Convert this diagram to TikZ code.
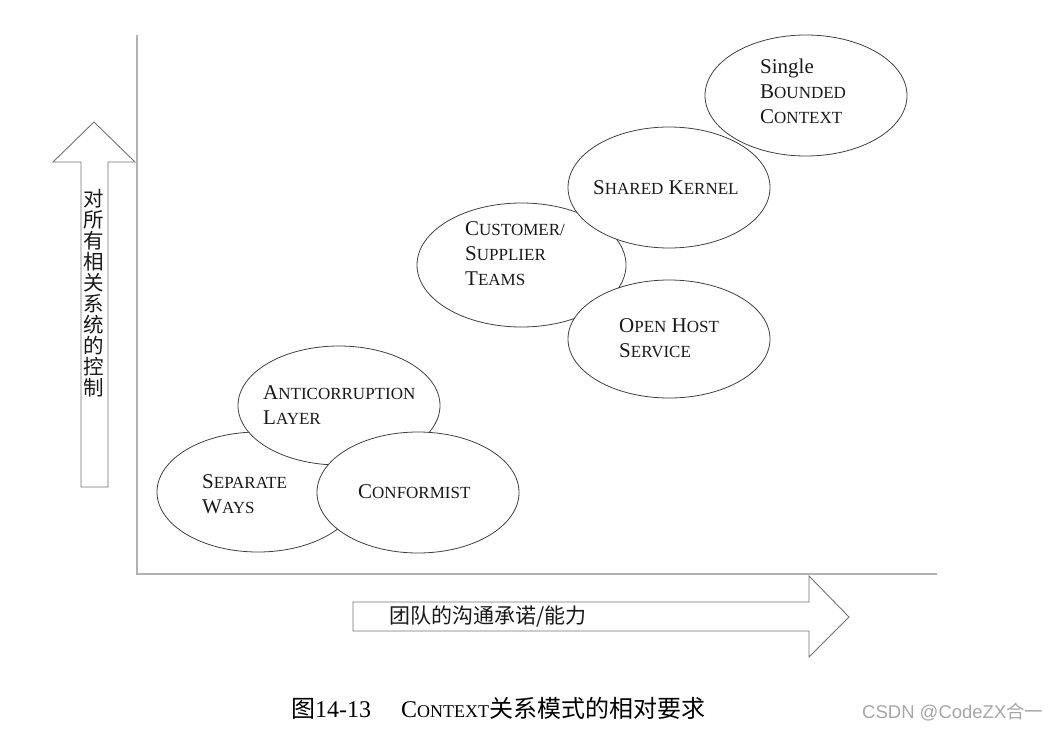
\documentclass[tikz,border=0pt]{standalone}
\usepackage{fontspec}
\setmainfont{Liberation Serif}
\newfontfamily\cjk{Noto Sans CJK SC}
\newfontfamily\wmfont{Liberation Sans}
\usetikzlibrary{shapes.geometric}
\newcommand{\SC}[2]{{\fontsize{21}{25}\selectfont #1}{\fontsize{17}{25}\selectfont #2}}
\newcommand{\CSC}[2]{{\fontsize{24}{26}\selectfont #1}{\fontsize{18}{26}\selectfont #2}}
\tikzset{
  ctx/.style={ellipse, draw=black!75, line width=0.8pt, fill=white, inner sep=0pt},
  lbl/.style={anchor=base west, align=left, inner sep=0pt, text=black!90, font=\fontsize{21}{25}\selectfont},
  bigarrow/.style={draw=black!55, line width=0.9pt, fill=white},
  axis/.style={draw=black!30, line width=1.6pt},
}
\begin{document}
\begin{tikzpicture}[x=1pt,y=-1pt]
\useasboundingbox (0,0) rectangle (1051,728);
% axes
\coordinate (ytop) at (137,35);
\coordinate (orig) at (137,574);
\coordinate (xend) at (937,574);
\draw[axis] (ytop) -- (orig) -- (xend);
% vertical big arrow
\draw[bigarrow] (81,487) -- (81,162) -- (53,162) -- (94,122) -- (135,162) -- (108,162) -- (108,487) -- cycle;
\node[font=\cjk\fontsize{20.5}{21}\selectfont, align=center, inner sep=0pt, text=black!90] (vlabel) at (94,293)
  {对\\所\\有\\相\\关\\系\\统\\的\\控\\制};
% horizontal big arrow
\draw[bigarrow] (353,602) -- (809,602) -- (809,576) -- (849,617) -- (809,657) -- (809,631) -- (353,631) -- cycle;
\node[font=\cjk\fontsize{21}{24}\selectfont, anchor=west, inner sep=0pt, text=black!90] (hlabel) at (389,617) {团队的沟通承诺/能力};
% ellipses
\node[ctx, minimum width=202pt, minimum height=120pt] (sep) at (258,492) {};
\node[lbl] (seplbl) at (202,513) {\SC{S}{EPARATE}\\\SC{W}{AYS}};
\node[ctx, minimum width=202pt, minimum height=119pt] (acl) at (339,405.5) {};
\node[lbl] (acllbl) at (263,424.5) {\SC{A}{NTICORRUPTION}\\\SC{L}{AYER}};
\node[ctx, minimum width=202pt, minimum height=121pt] (conf) at (418,492.5) {};
\node[lbl] (conflbl) at (358,498) {\SC{C}{ONFORMIST}};
\node[ctx, minimum width=209pt, minimum height=124pt] (cust) at (521.5,265) {};
\node[lbl] (custlbl) at (465,285) {\SC{C}{USTOMER/}\\\SC{S}{UPPLIER}\\\SC{T}{EAMS}};
\node[ctx, minimum width=202pt, minimum height=121pt] (sk) at (669,187.5) {};
\node[lbl] (sklbl) at (593,194) {\SC{S}{HARED} \SC{K}{ERNEL}};
\node[ctx, minimum width=202pt, minimum height=118pt] (ohs) at (669,339) {};
\node[lbl] (ohslbl) at (619,357.5) {\SC{O}{PEN} \SC{H}{OST}\\\SC{S}{ERVICE}};
\node[ctx, minimum width=202pt, minimum height=121pt] (sbc) at (806,95.5) {};
\node[lbl] (sbclbl) at (760,123) {Single\\\SC{B}{OUNDED}\\\SC{C}{ONTEXT}};
% caption
\node[anchor=base west, inner sep=0pt, font=\fontsize{24}{26}\selectfont, text=black] (cap) at (291,717)
  {{\cjk 图}14-13\hspace{30pt}\CSC{C}{ONTEXT}{\cjk 关系模式的相对要求}};
\node[anchor=base west, inner sep=0pt, font=\wmfont\fontsize{18.5}{20}\selectfont, text=black!35] (wm) at (862,718)
  {CSDN @CodeZX{\cjk 合一}};
\end{tikzpicture}
\end{document}
